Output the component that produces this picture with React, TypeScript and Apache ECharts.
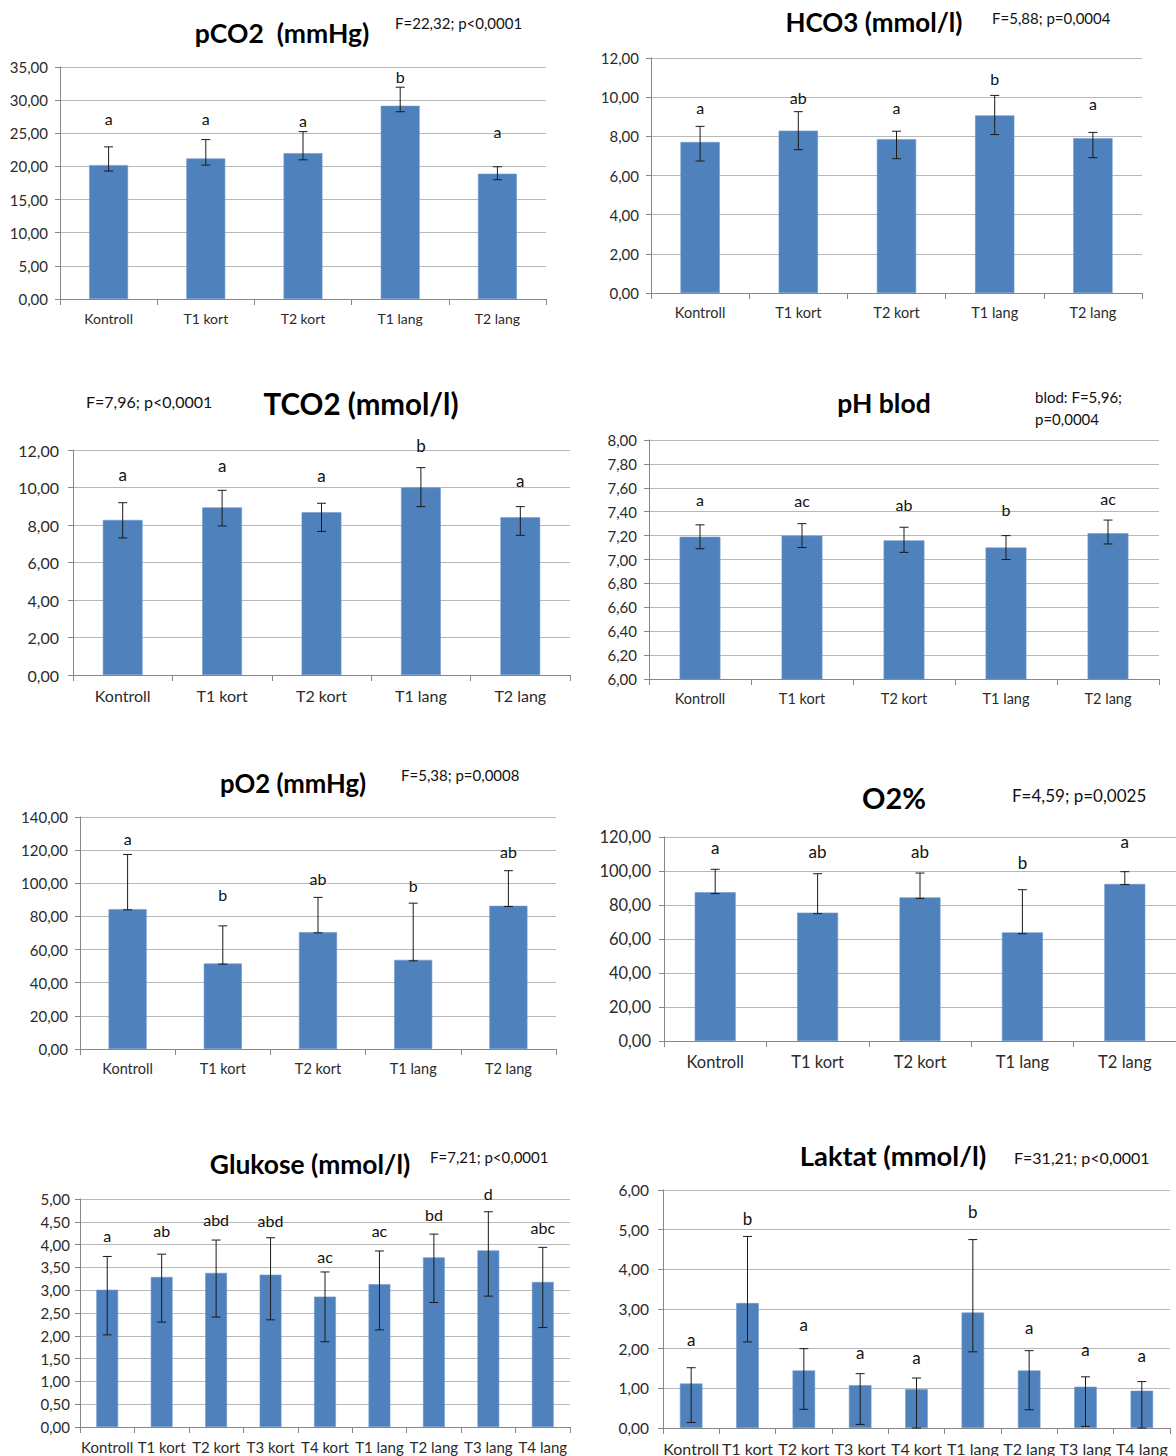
import React, { useEffect, useRef } from "react";
import * as echarts from "echarts";

// ---------- categories ----------
const CAT5 = ["Kontroll", "T1 kort", "T2 kort", "T1 lang", "T2 lang"];
const CAT9 = ["Kontroll", "T1 kort", "T2 kort", "T3 kort", "T4 kort", "T1 lang", "T2 lang", "T3 lang", "T4 lang"];

// ---------- pCO2 (mmHg) ----------
const pco2Mean = [20.2, 21.2, 22.0, 29.15, 18.9];
const pco2Low = [19.3, 20.2, 21.0, 28.25, 18.0];
const pco2High = [22.95, 24.05, 25.25, 31.95, 19.95];
const pco2Letters = ["a", "a", "a", "b", "a"];
const pco2LetterY = [27.3, 27.2, 26.9, 33.5, 25.2];
const pco2Axis = [0, 35, 5];

// ---------- HCO3 (mmol/l) ----------
const hco3Mean = [7.71, 8.29, 7.86, 9.07, 7.91];
const hco3Low = [6.74, 7.32, 6.86, 8.09, 6.91];
const hco3High = [8.51, 9.26, 8.26, 10.09, 8.2];
const hco3Letters = ["a", "ab", "a", "b", "a"];
const hco3LetterY = [9.45, 9.96, 9.45, 10.94, 9.67];
const hco3Axis = [0, 12, 2];

// ---------- TCO2 (mmol/l) ----------
const tco2Mean = [8.27, 8.94, 8.68, 10.0, 8.41];
const tco2Low = [7.31, 7.95, 7.66, 8.98, 7.45];
const tco2High = [9.19, 9.85, 9.16, 11.06, 8.98];
const tco2Letters = ["a", "a", "a", "b", "a"];
const tco2LetterY = [10.72, 11.16, 10.63, 12.23, 10.4];
const tco2Axis = [0, 12, 2];

// ---------- pH blod ----------
const phMean = [7.19, 7.2, 7.16, 7.1, 7.22];
const phLow = [7.09, 7.1, 7.06, 7.0, 7.13];
const phHigh = [7.29, 7.3, 7.27, 7.2, 7.33];
const phLetters = ["a", "ac", "ab", "b", "ac"];
const phLetterY = [7.5, 7.49, 7.46, 7.42, 7.51];
const phAxis = [6, 8, 0.2];

// ---------- pO2 (mmHg) ----------
const po2Mean = [84.4, 51.6, 70.5, 53.8, 86.4];
const po2Low = [84.0, 51.2, 70.1, 53.2, 86.0];
const po2High = [117.4, 74.3, 91.5, 88.0, 107.6];
const po2Letters = ["a", "b", "ab", "b", "ab"];
const po2LetterY = [127.3, 93.1, 102.7, 98.5, 119.3];
const po2Axis = [0, 140, 20];

// ---------- O2% ----------
const o2Mean = [87.5, 75.5, 84.5, 63.9, 92.4];
const o2Low = [86.7, 74.9, 83.9, 63.1, 92.0];
const o2High = [101.0, 98.4, 98.8, 89.0, 99.6];
const o2Letters = ["a", "ab", "ab", "b", "a"];
const o2LetterY = [114.1, 111.6, 111.2, 104.9, 117.5];
const o2Axis = [0, 120, 20];

// ---------- Glukose (mmol/l) ----------
const gluMean = [3.01, 3.29, 3.38, 3.34, 2.86, 3.13, 3.72, 3.87, 3.18];
const gluLow = [2.02, 2.3, 2.41, 2.35, 1.87, 2.13, 2.73, 2.87, 2.18];
const gluHigh = [3.74, 3.79, 4.1, 4.15, 3.4, 3.86, 4.23, 4.72, 3.94];
const gluLetters = ["a", "ab", "abd", "abd", "ac", "ac", "bd", "d", "abc"];
const gluLetterY = [4.21, 4.3, 4.56, 4.52, 3.75, 4.3, 4.66, 5.12, 4.37];
const gluAxis = [0, 5, 0.5];

// ---------- Laktat (mmol/l) ----------
const lakMean = [1.12, 3.15, 1.45, 1.08, 0.98, 2.91, 1.45, 1.04, 0.94];
const lakLow = [0.14, 2.17, 0.47, 0.09, 0.0, 1.92, 0.46, 0.04, 0.0];
const lakHigh = [1.52, 4.83, 2.0, 1.37, 1.26, 4.75, 1.95, 1.29, 1.17];
const lakLetters = ["a", "b", "a", "a", "a", "b", "a", "a", "a"];
const lakLetterY = [2.22, 5.29, 2.6, 1.91, 1.78, 5.45, 2.54, 1.99, 1.82];
const lakAxis = [0, 6, 1];

const FONT = 'Lato, "Open Sans", "DejaVu Sans", sans-serif';
const BAR = "#4F81BD";

type Note = { text: string; x: number; y: number; size: number };
type Panel = {
  cats: string[];
  mean: number[];
  low: number[];
  high: number[];
  letters: string[];
  letterY: number[];
  axis: number[];
  grid: { left: number; top: number; width: number; height: number };
  axisFont: number;
  yFont: number;
  yMargin: number;
  letterFont: number;
  title: { text: string; x: number; y: number; size: number };
  notes: Note[];
};

const panels: Panel[] = [
  {
    cats: CAT5, mean: pco2Mean, low: pco2Low, high: pco2High, letters: pco2Letters, letterY: pco2LetterY, axis: pco2Axis,
    grid: { left: 60, top: 67, width: 486, height: 232 }, axisFont: 14, yFont: 15, yMargin: 12, letterFont: 16,
    title: { text: "pCO2  (mmHg)", x: 282, y: 33, size: 26.5 },
    notes: [{ text: "F=22,32; p<0,0001", x: 395, y: 23, size: 15 }],
  },
  {
    cats: CAT5, mean: hco3Mean, low: hco3Low, high: hco3High, letters: hco3Letters, letterY: hco3LetterY, axis: hco3Axis,
    grid: { left: 651, top: 58, width: 491, height: 235 }, axisFont: 14.5, yFont: 15, yMargin: 12, letterFont: 16,
    title: { text: "HCO3 (mmol/l)", x: 874, y: 22, size: 26 },
    notes: [{ text: "F=5,88; p=0,0004", x: 992, y: 18, size: 15 }],
  },
  {
    cats: CAT5, mean: tco2Mean, low: tco2Low, high: tco2High, letters: tco2Letters, letterY: tco2LetterY, axis: tco2Axis,
    grid: { left: 73, top: 450, width: 497, height: 225 }, axisFont: 16, yFont: 16, yMargin: 14, letterFont: 17,
    title: { text: "TCO2 (mmol/l)", x: 361, y: 403, size: 29.5 },
    notes: [{ text: "F=7,96; p<0,0001", x: 86, y: 401, size: 16 }],
  },
  {
    cats: CAT5, mean: phMean, low: phLow, high: phHigh, letters: phLetters, letterY: phLetterY, axis: phAxis,
    grid: { left: 649, top: 440, width: 510, height: 239 }, axisFont: 14.5, yFont: 15, yMargin: 12, letterFont: 16,
    title: { text: "pH blod", x: 884, y: 403, size: 26.5 },
    notes: [
      { text: "blod: F=5,96;", x: 1035, y: 397, size: 15 },
      { text: "p=0,0004", x: 1035, y: 419, size: 15 },
    ],
  },
  {
    cats: CAT5, mean: po2Mean, low: po2Low, high: po2High, letters: po2Letters, letterY: po2LetterY, axis: po2Axis,
    grid: { left: 80, top: 817, width: 476, height: 232 }, axisFont: 14.5, yFont: 15, yMargin: 12, letterFont: 16,
    title: { text: "pO2 (mmHg)", x: 293, y: 783, size: 25.7 },
    notes: [{ text: "F=5,38; p=0,0008", x: 401, y: 775, size: 15 }],
  },
  {
    cats: CAT5, mean: o2Mean, low: o2Low, high: o2High, letters: o2Letters, letterY: o2LetterY, axis: o2Axis,
    grid: { left: 664, top: 837, width: 515, height: 204 }, axisFont: 16.5, yFont: 16.5, yMargin: 13, letterFont: 17,
    title: { text: "O2%", x: 894, y: 797, size: 29 },
    notes: [{ text: "F=4,59; p=0,0025", x: 1012, y: 795, size: 17 }],
  },
  {
    cats: CAT9, mean: gluMean, low: gluLow, high: gluHigh, letters: gluLetters, letterY: gluLetterY, axis: gluAxis,
    grid: { left: 80, top: 1199, width: 490, height: 228 }, axisFont: 15, yFont: 15, yMargin: 10, letterFont: 16,
    title: { text: "Glukose (mmol/l)", x: 310, y: 1164, size: 26.4 },
    notes: [{ text: "F=7,21; p<0,0001", x: 430, y: 1157, size: 15 }],
  },
  {
    cats: CAT9, mean: lakMean, low: lakLow, high: lakHigh, letters: lakLetters, letterY: lakLetterY, axis: lakAxis,
    grid: { left: 663, top: 1190, width: 507, height: 238 }, axisFont: 16, yFont: 15.5, yMargin: 14, letterFont: 17,
    title: { text: "Laktat (mmol/l)", x: 893, y: 1155, size: 27.4 },
    notes: [{ text: "F=31,21; p<0,0001", x: 1014, y: 1157, size: 16 }],
  },
];

function buildOption() {
  const grid: any[] = [];
  const xAxis: any[] = [];
  const yAxis: any[] = [];
  const series: any[] = [];
  const graphic: any[] = [];

  panels.forEach((p, i) => {
    grid.push({ ...p.grid, containLabel: false });
    xAxis.push({
      type: "category",
      gridIndex: i,
      data: p.cats,
      boundaryGap: true,
      axisLine: { show: true, lineStyle: { color: "#868686", width: 1 } },
      axisTick: { show: true, length: 6, lineStyle: { color: "#868686" } },
      axisLabel: { interval: 0, fontSize: p.axisFont, color: "#2b2b2b", fontFamily: FONT, margin: 12 },
      splitLine: { show: false },
    });
    yAxis.push({
      type: "value",
      gridIndex: i,
      min: p.axis[0],
      max: p.axis[1],
      interval: p.axis[2],
      axisLine: { show: true, lineStyle: { color: "#868686", width: 1 } },
      axisTick: { show: true, length: 5, lineStyle: { color: "#868686" } },
      axisLabel: {
        fontSize: p.yFont,
        color: "#2b2b2b",
        fontFamily: FONT,
        margin: p.yMargin,
        formatter: (v: number) => v.toFixed(2).replace(".", ","),
      },
      splitLine: { show: true, lineStyle: { color: "#b8b8b8", width: 1 } },
    });
    series.push({
      type: "bar",
      xAxisIndex: i,
      yAxisIndex: i,
      data: p.mean,
      barWidth: "40%",
      itemStyle: { color: BAR, borderColor: "#6f98cc", borderWidth: 0.6 },
      z: 2,
    });
    series.push({
      type: "custom",
      xAxisIndex: i,
      yAxisIndex: i,
      data: p.mean.map((_, j) => [j, p.low[j], p.high[j]]),
      encode: { x: 0, y: [1, 2] },
      z: 5,
      renderItem: (params: any, api: any) => {
        const x = api.value(0);
        const lo = api.coord([x, api.value(1)]);
        const hi = api.coord([x, api.value(2)]);
        const cw = 4.5;
        const style = { stroke: "#1a1a1a", lineWidth: 1, fill: null };
        return {
          type: "group",
          children: [
            { type: "line", shape: { x1: lo[0], y1: lo[1], x2: hi[0], y2: hi[1] }, style },
            { type: "line", shape: { x1: lo[0] - cw, y1: lo[1], x2: lo[0] + cw, y2: lo[1] }, style },
            { type: "line", shape: { x1: hi[0] - cw, y1: hi[1], x2: hi[0] + cw, y2: hi[1] }, style },
          ],
        };
      },
    });
    series.push({
      type: "custom",
      xAxisIndex: i,
      yAxisIndex: i,
      data: p.letterY.map((v, j) => [j, v]),
      encode: { x: 0, y: 1 },
      z: 6,
      renderItem: (params: any, api: any) => {
        const pt = api.coord([api.value(0), api.value(1)]);
        return {
          type: "text",
          x: pt[0],
          y: pt[1],
          style: {
            text: p.letters[params.dataIndex],
            fontSize: p.letterFont,
            fontFamily: FONT,
            fill: "#111",
            align: "center",
            verticalAlign: "middle",
          },
        };
      },
    });

    graphic.push({
      type: "text",
      x: p.title.x,
      y: p.title.y,
      style: {
        text: p.title.text,
        fontSize: p.title.size,
        fontWeight: "bold",
        fontFamily: FONT,
        fill: "#000",
        align: "center",
        verticalAlign: "middle",
        textAlign: "center",
        textVerticalAlign: "middle",
      },
    });
    p.notes.forEach((n) => {
      graphic.push({
        type: "text",
        x: n.x,
        y: n.y,
        style: {
          text: n.text,
          fontSize: n.size,
          fontFamily: FONT,
          fill: "#111",
          align: "left",
          verticalAlign: "middle",
          textAlign: "left",
          textVerticalAlign: "middle",
        },
      });
    });
  });

  return {
    animation: false,
    backgroundColor: "#ffffff",
    grid,
    xAxis,
    yAxis,
    series,
    graphic,
  };
}

export default function App() {
  const ref = useRef<HTMLDivElement>(null);
  useEffect(() => {
    if (!ref.current) return;
    const chart = echarts.init(ref.current, undefined, { renderer: "svg" });
    chart.setOption(buildOption() as any);
    return () => chart.dispose();
  }, []);
  return (
    <div
      ref={ref}
      style={{ position: "absolute", left: 0, top: 0, width: 1176, height: 1456, background: "#fff" }}
    />
  );
}
